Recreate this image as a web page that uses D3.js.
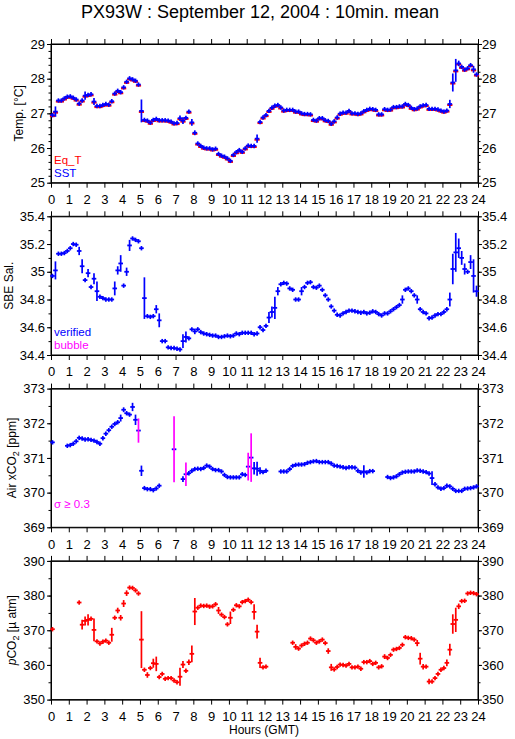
<!DOCTYPE html>
<html>
<head>
<meta charset="utf-8">
<script src="https://cdn.jsdelivr.net/npm/d3@7"></script>
<style>
  body { margin: 0; background: #fff; }
  svg text { font-family: "Liberation Sans", Arial, Helvetica, sans-serif; }
</style>
</head>
<body>
<script>
const W = 515, H = 739;

// 10 minute slots, 144 per day (null = no data)
const hourTicks = d3.range(0, 25);

const sst = [
  26.95, 27.05, 27.37, 27.37, 27.43, 27.48, 27.49, 27.45, 27.40, 27.28,
  27.37, 27.51, 27.53, 27.55, 27.34, 27.21, 27.21, 27.24, 27.27, 27.25,
  27.35, 27.57, 27.65, 27.61, 27.75, 27.91, 28.01, 27.98, 27.94, 27.83,
  27.07, 26.81, 26.79, 26.73, 26.81, 26.84, 26.80, 26.80, 26.80, 26.79,
  26.76, 26.71, 26.72, 26.86, 26.79, 26.87, 27.05, 26.74, 26.44, 26.13,
  26.06, 26.01, 25.99, 25.99, 25.96, 25.98, 25.83, 25.78, 25.75, 25.70,
  25.63, 25.80, 25.88, 25.94, 25.89, 25.99, 26.07, 26.06, 26.06, 26.27,
  26.75, 26.88, 26.95, 27.07, 27.16, 27.22, 27.24, 27.17, 27.08, 27.10,
  27.10, 27.10, 27.05, 27.05, 27.00, 26.98, 26.98, 26.97, 26.81, 26.79,
  26.86, 26.86, 26.80, 26.78, 26.70, 26.77, 26.88, 26.99, 27.02, 27.02,
  27.07, 27.00, 27.00, 26.98, 27.00, 27.06, 27.10, 27.13, 27.12, 27.10,
  26.97, 26.97, 27.12, 27.10, 27.11, 27.18, 27.18, 27.20, 27.20, 27.27,
  27.24, 27.16, 27.12, 27.14, 27.20, 27.23, 27.24, 27.13, 27.13, 27.13,
  27.11, 27.08, 27.05, 27.08, 27.27, 27.89, 28.24, 28.44, 28.34, 28.26,
  28.30, 28.39, 28.27, 28.12
];
const sstErr = [[1,.15],[11,.12],[14,.10],[20,.06],[22,.06],[25,.06],[30,.33],[43,.08],[44,.10],
  [45,.06],[47,.10],[48,.07],[61,.05],[69,.12],[110,.05],[134,.12],[135,.26],[136,.33],[137,.08],
  [140,.06],[141,.06],[142,.10]];

const eqT = [
  26.92, 27.02, 27.34, 27.34, 27.40, 27.45, 27.46, 27.42, 27.37, 27.25,
  27.34, 27.48, 27.50, 27.52, 27.31, 27.18, 27.18, 27.21, 27.24, 27.22,
  27.32, 27.54, 27.62, 27.58, 27.72, 27.88, 27.98, 27.95, 27.91, 27.80,
  27.04, 26.78, 26.76, 26.70, 26.78, 26.81, 26.77, 26.77, 26.77, 26.76,
  26.73, 26.68, 26.69, 26.83, 26.76, 26.84, 27.02, 26.71, 26.41, 26.10,
  26.03, 25.98, 25.96, 25.96, 25.93, 25.95, 25.80, 25.75, 25.72, 25.67,
  25.60, 25.77, 25.85, 25.91, 25.86, 25.96, 26.04, 26.03, 26.03, 26.24,
  26.72, 26.85, 26.92, 27.04, 27.13, 27.19, 27.21, 27.14, 27.05, 27.07,
  27.07, 27.07, 27.02, 27.02, 26.97, 26.95, 26.95, 26.94, 26.78, 26.76,
  26.83, 26.83, 26.77, 26.75, 26.67, 26.74, 26.85, 26.96, 26.99, 26.99,
  27.04, 26.97, 26.97, 26.95, 26.97, 27.03, 27.07, 27.10, 27.09, 27.07,
  26.94, 26.94, 27.09, 27.07, 27.08, 27.15, 27.15, 27.17, 27.17, 27.24,
  27.21, 27.13, 27.09, 27.11, 27.17, 27.20, 27.21, 27.10, 27.10, 27.10,
  27.08, 27.05, 27.02, 27.05, 27.24, 27.86, 28.21, 28.41, 28.31, 28.23,
  28.27, 28.36, 28.24, 28.09
];

const sal = [
  34.97, 35.01, 35.13, 35.13, 35.135, 35.15, 35.17, 35.20, 35.195, 35.15,
  35.04, 34.94, 34.99, 34.89, 34.95, 34.86, 34.82, 34.81, 34.80, 34.80,
  34.80, 34.88, 35.01, 35.06, 34.90, 35.00, 35.19, 35.24, 35.23, 35.22,
  35.17, 34.81, 34.68, 34.675, 34.68, 34.73, 34.65, 34.50, 34.50, 34.455,
  34.45, 34.45, 34.445, 34.44, 34.50, 34.53, 34.52, 34.585, 34.57, 34.585,
  34.565, 34.555, 34.55, 34.545, 34.54, 34.54, 34.53, 34.53, 34.535, 34.54,
  34.535, 34.54, 34.555, 34.55, 34.56, 34.56, 34.56, 34.56, 34.55, 34.555,
  34.60, 34.58, 34.61, 34.67, 34.71, 34.74, 34.86, 34.91, 34.92, 34.915,
  34.88, 34.87, 34.80, 34.80, 34.86, 34.89, 34.92, 34.925, 34.89, 34.885,
  34.90, 34.87, 34.83, 34.80, 34.75, 34.72, 34.69, 34.685, 34.70, 34.71,
  34.72, 34.72, 34.715, 34.71, 34.705, 34.71, 34.70, 34.705, 34.715, 34.71,
  34.695, 34.685, 34.70, 34.70, 34.715, 34.73, 34.745, 34.76, 34.80, 34.87,
  34.88, 34.86, 34.83, 34.80, 34.73, 34.71, 34.70, 34.665, 34.67, 34.685,
  34.695, 34.695, 34.71, 34.73, 34.80, 35.02, 35.14, 35.17, 35.10, 35.02,
  35.00, 35.07, 34.97, 34.86
];
const salErr = [[1,.065],[9,.03],[10,.05],[12,.03],[14,.04],[15,.07],[21,.05],[22,.03],[23,.06],
  [25,.03],[26,.04],[31,.15],[35,.03],[36,.05],[44,.05],[45,.04],[48,.02],[73,.04],[74,.04],
  [75,.08],[76,.03],[84,.03],[118,.03],[123,.03],[134,.05],[135,.11],[136,.14],[137,.07],
  [138,.05],[139,.04],[141,.05],[142,.12],[143,.04]];

const airCO2 = [
  371.45, null, null, null, null, 371.35, 371.37, 371.41, 371.48, 371.58,
  371.56, 371.53, 371.54, 371.52, 371.50, 371.46, 371.41, 371.57, 371.70, 371.80,
  371.90, 371.98, 372.03, 372.15, 372.39, 372.29, 372.25, 372.47, 372.10, 371.79,
  370.63, 370.13, 370.10, 370.10, 370.07, 370.12, 370.20, null, null, null,
  null, 371.25, null, null, 370.39, 370.53, 370.56, 370.63, 370.68, 370.69,
  370.68, 370.71, 370.78, 370.75, 370.68, 370.65, 370.65, 370.61, 370.51, 370.45,
  370.44, 370.44, 370.44, 370.44, 370.53, 370.51, 370.75, 371.01, 370.70, 370.69,
  370.63, 370.59, 370.63, null, null, null, null, 370.61, 370.61, 370.61,
  370.68, 370.77, 370.80, 370.81, 370.81, 370.82, 370.86, 370.88, 370.90, 370.91,
  370.88, 370.88, 370.88, 370.88, 370.84, 370.78, 370.77, 370.75, 370.73, 370.71,
  370.73, 370.73, 370.72, 370.63, 370.58, 370.61, 370.58, 370.62, 370.62, null,
  null, null, null, 370.45, 370.42, 370.44, 370.47, 370.53, 370.58, 370.60,
  370.61, 370.61, 370.61, 370.64, 370.63, 370.61, 370.59, 370.55, 370.42, 370.24,
  370.15, 370.11, 370.13, 370.20, 370.18, 370.11, 370.05, 370.05, 370.05, 370.11,
  370.12, 370.13, 370.15, 370.18
];
const airErr = [[17,.05],[18,.04],[20,.03],[23,.1],[24,.07],[26,.05],[27,.12],[28,.15],[29,.35],
  [30,.15],[36,.05],[41,.95],[44,.08],[45,.34],[52,.05],[53,.05],[54,.05],[66,.4],[67,.7],
  [68,.18],[69,.2],[70,.1],[105,.18],[128,.2],[129,.05],[139,.04]];

const pco2 = [
  370.3, null, null, null, null, null, null, null, null, 378.0,
  371.6, 372.7, 373.0, 373.3, 370.1, 366.8, 366.2, 366.7, 367.0, 366.4,
  368.7, 373.6, 375.7, 373.6, 377.7, 380.7, 382.3, 382.2, 381.5, 380.6,
  367.3, 358.6, 357.1, 359.1, 360.5, 360.3, 356.5, 357.4, 356.0, 356.2,
  356.2, 355.5, 355.0, 356.6, 360.1, 358.3, 360.8, 363.2, 375.4, 376.5,
  377.1, 377.0, 377.1, 376.8, 376.9, 377.5, 375.7, 374.5, 373.8, 371.7,
  373.6, 375.9, 377.2, 376.9, 378.1, 378.4, 378.8, 378.1, 375.3, 369.6,
  360.6, 359.3, 359.5, null, null, null, null, null, null, null,
  null, 366.4, 365.2, 364.7, 365.6, 366.1, 366.4, 367.6, 367.1, 366.4,
  366.8, 367.3, 366.3, 364.0, 359.3, 358.7, 359.4, 360.1, 360.0, 359.8,
  360.3, 359.3, 359.3, 359.5, 358.9, 360.8, 360.8, 361.1, 360.3, 360.6,
  359.3, 359.6, 362.4, 362.0, 362.9, 364.4, 364.6, 364.9, 365.8, 368.0,
  367.8, 367.7, 367.3, 366.3, 361.8, 359.5, 359.5, 355.2, 355.2, 356.2,
  357.4, 358.6, 359.1, 360.6, 364.4, 371.8, 373.0, 376.9, 378.4, 378.5,
  380.6, 380.8, 380.7, 380.4
];
const pco2Err = [[10,1.4],[11,1.3],[12,1.6],[13,.3],[14,3.3],[20,2],[22,.8],[23,.8],[24,1],[25,.8],
  [29,.6],[30,8.2],[32,.8],[34,1.3],[35,2.1],[37,.5],[43,2.6],[44,1],[46,.8],[47,2.4],[48,3.9],
  [56,1],[60,1.8],[68,2.2],[69,2],[70,1.5],[82,.8],[93,.8],[94,1],[104,.6],[109,.6],[112,.7],
  [119,.6],[123,.9],[124,1.7],[125,.8],[127,.8],[133,1],[134,1.7],[135,2.8],[136,3.5],[137,.8],[141,.5]];

const BLUE = "#0000ff", RED = "#ff0000", MAG = "#ff00ff";

const svg = d3.select("body").append("svg")
  .attr("width", W).attr("height", H);

svg.append("text")
  .attr("x", 260).attr("y", 18)
  .attr("text-anchor", "middle")
  .attr("font-size", 18)
  .text("PX93W : September 12, 2004 : 10min. mean");

const x = d3.scaleLinear().domain([0, 24]).range([51, 478]);

function series(vals, errs) {
  const em = new Map(errs || []);
  return vals.map((v, i) => ({ t: (i + 0.5) / 6, v: v, e: em.get(i) || 0 }))
    .filter(d => d.v != null);
}

const panels = [
  { domain: [25, 29], major: d3.range(25, 29.01, 1), minor: d3.range(25, 29.01, 0.2),
    fmt: d3.format("d"), title: ["Temp. [°C]"], titleX: 23 },
  { domain: [34.4, 35.4], major: d3.range(34.4, 35.41, 0.2), minor: d3.range(34.4, 35.41, 0.1),
    fmt: d => d3.format(".1f")(d).replace(/\.0$/, ""), title: ["SBE Sal."], titleX: 13 },
  { domain: [369, 373], major: d3.range(369, 373.01, 1), minor: d3.range(369, 373.01, 0.5),
    fmt: d3.format("d"), title: ["Air xCO", "2", " [ppm]"], titleX: 16 },
  { domain: [350, 390], major: d3.range(350, 390.01, 10), minor: d3.range(350, 390.01, 5),
    fmt: d3.format("d"), title: ["CO", "2", " [µ atm]"], italicP: true, titleX: 16 }
];

function styleAxis(g, size) {
  g.attr("font-size", size).attr("font-family", "'Liberation Sans', Arial, sans-serif");
  g.selectAll("line").attr("stroke", "#000");
  g.selectAll("path").attr("stroke", "#000");
  g.selectAll("text").attr("fill", "#000");
}

panels.forEach((p, k) => {
  const top = 44 + k * 172.3;
  const bottom = top + 138.7;
  p.y = d3.scaleLinear().domain(p.domain).range([bottom, top]);
  p.top = top; p.bottom = bottom;
  const y = p.y;

  svg.append("rect")
    .attr("x", x(0)).attr("y", top)
    .attr("width", x(24) - x(0)).attr("height", bottom - top)
    .attr("fill", "none").attr("stroke", "#000");

  svg.append("g").attr("transform", `translate(0,${top})`)
    .call(d3.axisTop(x).tickValues(hourTicks).tickSize(5).tickSizeOuter(0).tickFormat(""))
    .call(g => styleAxis(g, 13));
  svg.append("g").attr("transform", `translate(0,${bottom})`)
    .call(d3.axisBottom(x).tickValues(hourTicks).tickSize(5).tickSizeOuter(0).tickPadding(7))
    .call(g => styleAxis(g, 13));

  svg.append("g").attr("transform", `translate(${x(0)},0)`)
    .call(d3.axisLeft(y).tickValues(p.minor).tickSize(2.5).tickSizeOuter(0).tickFormat(""))
    .call(g => styleAxis(g, 13));
  svg.append("g").attr("transform", `translate(${x(0)},0)`)
    .call(d3.axisLeft(y).tickValues(p.major).tickSize(4).tickSizeOuter(0).tickPadding(2).tickFormat(p.fmt))
    .call(g => styleAxis(g, 13));
  svg.append("g").attr("transform", `translate(${x(24)},0)`)
    .call(d3.axisRight(y).tickValues(p.minor).tickSize(2.5).tickSizeOuter(0).tickFormat(""))
    .call(g => styleAxis(g, 13));
  svg.append("g").attr("transform", `translate(${x(24)},0)`)
    .call(d3.axisRight(y).tickValues(p.major).tickSize(4).tickSizeOuter(0).tickPadding(0).tickFormat(p.fmt))
    .call(g => styleAxis(g, 13));

  const cy = (top + bottom) / 2;
  const t = svg.append("text")
    .attr("transform", `translate(${p.titleX},${cy}) rotate(-90)`)
    .attr("text-anchor", "middle")
    .attr("font-size", 12);
  if (p.italicP) t.append("tspan").attr("font-style", "italic").text("p");
  t.append("tspan").text(p.title[0]);
  if (p.title.length > 1) {
    t.append("tspan").attr("font-size", 9).attr("dy", 3).text(p.title[1]);
    t.append("tspan").attr("dy", -3).text(p.title[2]);
  }
});

function drawMarks(p, data, color, errColor) {
  const y = p.y;
  const g = svg.append("g");
  g.selectAll("line.h").data(data).enter().append("line")
    .attr("x1", d => x(d.t) - 2.3).attr("x2", d => x(d.t) + 2.3)
    .attr("y1", d => y(d.v)).attr("y2", d => y(d.v))
    .attr("stroke", color).attr("stroke-width", 1.8);
  g.selectAll("line.v").data(data).enter().append("line")
    .attr("x1", d => x(d.t)).attr("x2", d => x(d.t))
    .attr("y1", d => y(d.v) - Math.max(2.2, Math.abs(y(d.v + d.e) - y(d.v))))
    .attr("y2", d => y(d.v) + Math.max(2.2, Math.abs(y(d.v + d.e) - y(d.v))))
    .attr("stroke", d => errColor ? errColor(d) : color).attr("stroke-width", 1.7);
}

// Temperature: Eq_T (red) under SST (blue)
const p0 = panels[0];
svg.append("g").selectAll("line").data(series(eqT)).enter().append("line")
  .attr("x1", d => x(d.t) - 2.6).attr("x2", d => x(d.t) + 2.6)
  .attr("y1", d => p0.y(d.v)).attr("y2", d => p0.y(d.v))
  .attr("stroke", RED).attr("stroke-width", 2);
drawMarks(p0, series(sst, sstErr), BLUE);

drawMarks(panels[1], series(sal, salErr), BLUE);
drawMarks(panels[2], series(airCO2, airErr), BLUE, d => d.e >= 0.3 ? MAG : BLUE);
drawMarks(panels[3], series(pco2, pco2Err), RED);

// legends
function legend(px, py, txt, color) {
  svg.append("text").attr("x", px).attr("y", py).attr("font-size", 11.5)
    .attr("fill", color).text(txt);
}
legend(54, 163.5, "Eq_T", RED);
legend(54, 177, "SST", BLUE);
legend(54, 335.5, "verified", BLUE);
legend(54, 349, "bubble", MAG);
legend(54, 507.5, "σ ≥ 0.3", MAG);

svg.append("text")
  .attr("x", 264).attr("y", 734)
  .attr("text-anchor", "middle")
  .attr("font-size", 12)
  .text("Hours (GMT)");
</script>
</body>
</html>
